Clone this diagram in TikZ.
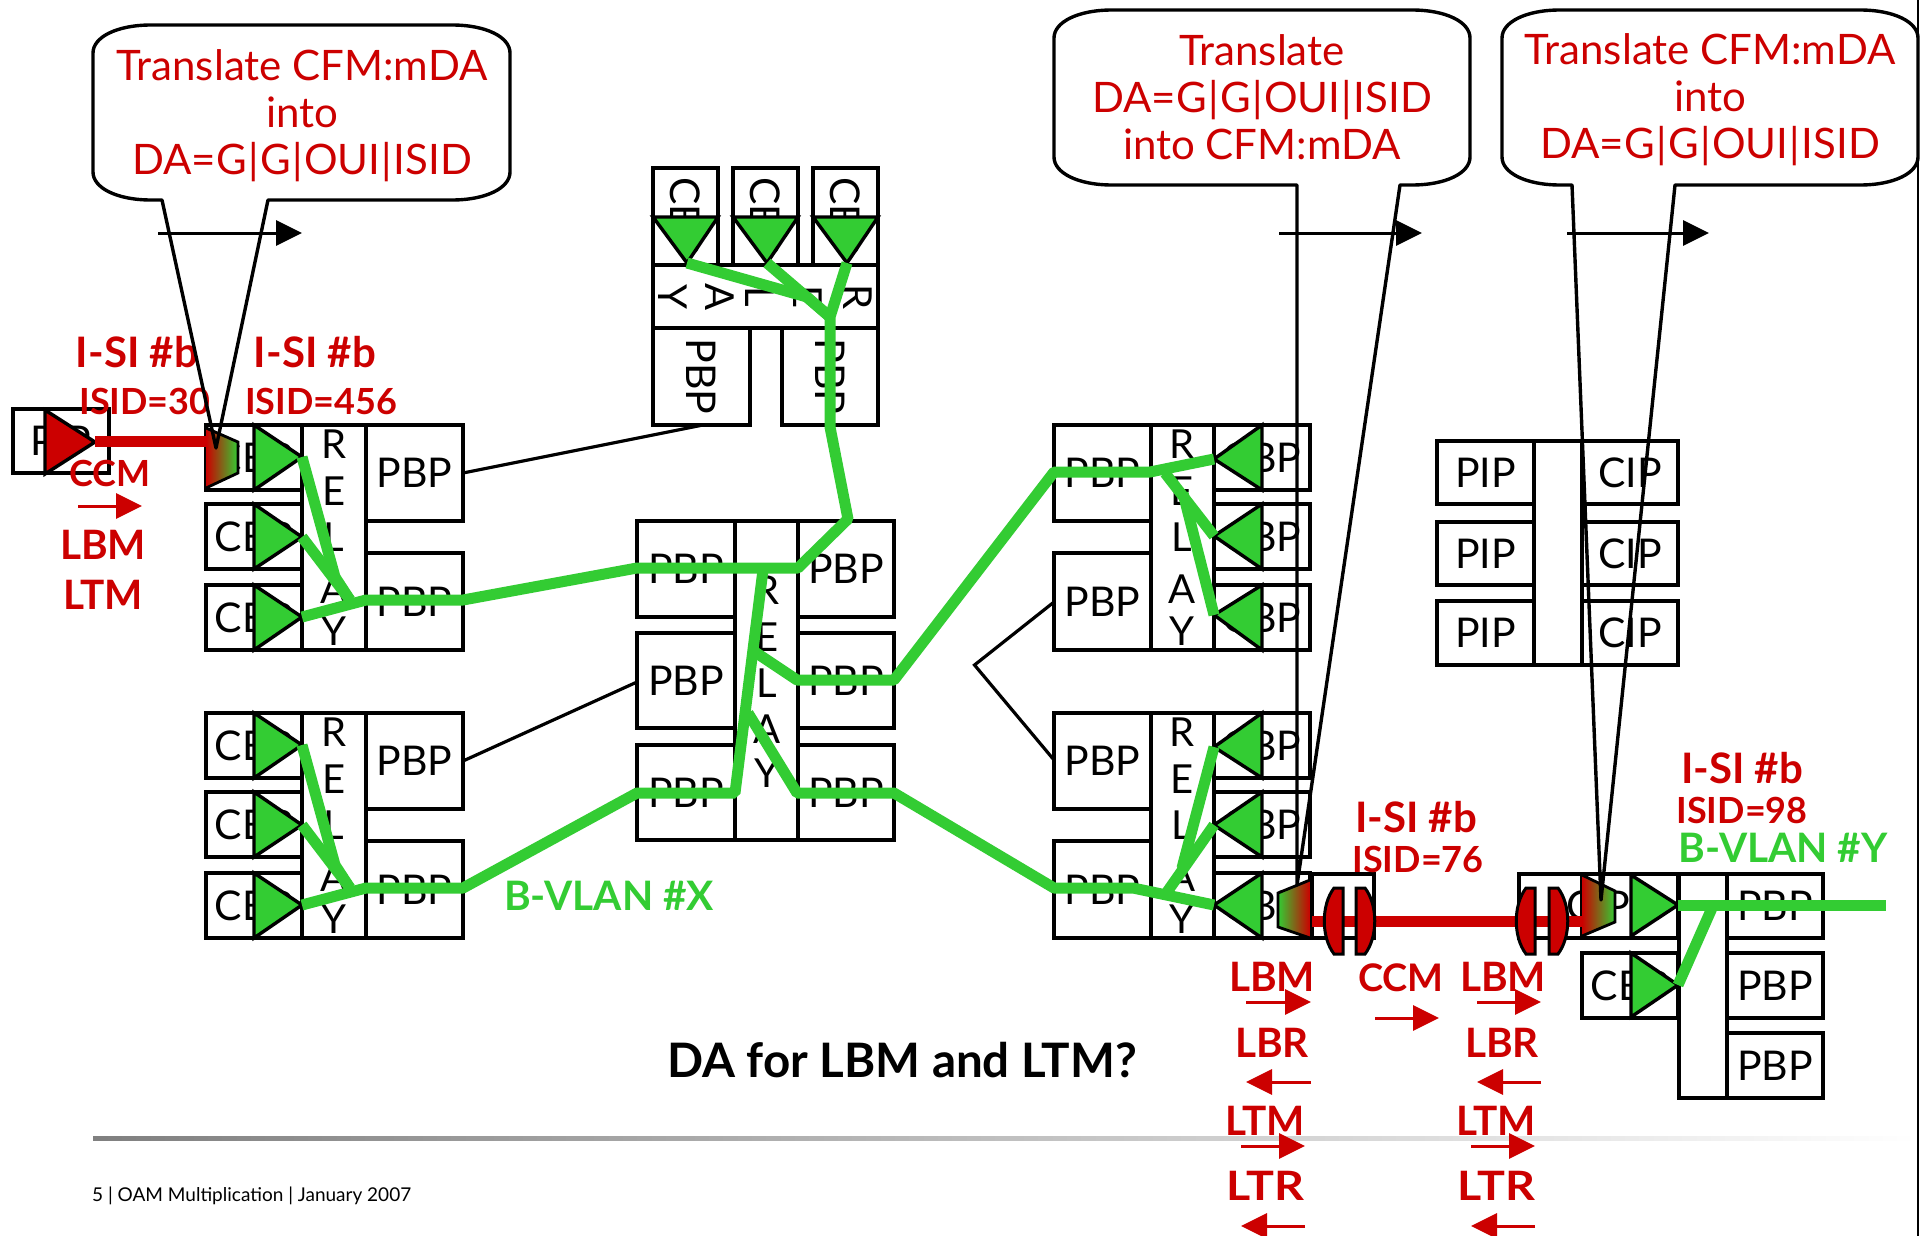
\documentclass[tikz,border=0pt]{standalone}
\usepackage{fontspec}
\setmainfont{Lato}
\usetikzlibrary{arrows.meta,shadings}
\definecolor{cred}{HTML}{CC0000}
\definecolor{cgreen}{HTML}{33CC33}
\tikzset{
  x=1pt,y=-1pt,
  boxn/.style={draw=black,line width=3.6pt,fill=white,inner sep=0pt,outer sep=0pt,font=\fontsize{41}{41}\selectfont},
  lett/.style={inner sep=0pt,font=\fontsize{40}{40}\selectfont},
  tria/.style={draw=black,line width=3.4pt,fill=cgreen,line join=miter},
  gline/.style={draw=cgreen,line width=11pt,line join=bevel},
  rline/.style={draw=cred,line width=11pt},
  thin/.style={draw=black,line width=3.2pt},
  rhead/.style={inner sep=0pt,text=cred,font=\fontsize{40.5}{40.5}\selectfont\bfseries},
  isi/.style={inner sep=0pt,text=cred,font=\fontsize{42}{42}\selectfont\bfseries},
  rsub/.style={inner sep=0pt,text=cred,font=\fontsize{36}{36}\selectfont\bfseries},
  gtxt/.style={inner sep=0pt,text=cgreen,font=\fontsize{40.6}{40.6}\selectfont\bfseries},
  ctxt/.style={inner sep=0pt,text=cred,align=center,font=\fontsize{42}{47}\selectfont},
  rarr/.style={draw=cred,line width=3pt,-{Triangle[length=26pt,width=25pt]}},
  barr/.style={draw=black,line width=3pt,-{Triangle[length=26pt,width=25pt]}},
  lens/.style={draw=black,line width=3pt,fill=cred},
  trap/.style={draw=black,line width=2.8pt},
  calloutp/.style={draw=black,line width=3.4pt},
}
% name x1 y1 x2 y2 text
\newcommand{\bx}[6]{\node[boxn,minimum width={(#4)-(#2)},minimum height={(#5)-(#3)}] (#1) at ({((#2)+(#4))/2},{((#3)+(#5))/2}) {#6};}
\newcommand{\tri}[7]{\coordinate (#1) at (#6,#7); \path[tria] (#2,#3) -- (#4,#5) -- (#6,#7) -- cycle;}
\newcommand{\relayword}[3]{%
  \node[lett] (#1r) at (#2,{#3+19}) {R};
  \node[lett] (#1e) at (#2,{#3+66}) {E};
  \node[lett] (#1l) at (#2,{#3+112}) {L};
  \node[lett] (#1a) at (#2,{#3+164}) {A};
  \node[lett] (#1y) at (#2,{#3+206}) {Y};}
\newcommand{\arw}[5]{\coordinate (#1s) at (#3,#5); \coordinate (#1t) at (#4,#5); \draw[#2] (#1s) -- (#1t);}
\newcommand{\sepb}{\kern1.4pt|\kern1.4pt}
% x1 y1 x2 y2 p1 tipx tipy p2
\newcommand{\callout}[8]{\draw[calloutp,line join=round]
  (#5,#4) -- (#6,#7) -- (#8,#4) -- ({#3-58},#4)
  .. controls ({#3-24},#4) and (#3,{#4-12}) .. (#3,{#4-28})
  -- (#3,{#2+28}) .. controls (#3,{#2+12}) and ({#3-24},#2) .. ({#3-58},#2)
  -- ({#1+58},#2) .. controls ({#1+24},#2) and (#1,{#2+12}) .. (#1,{#2+28})
  -- (#1,{#4-28}) .. controls (#1,{#4-12}) and ({#1+24},#4) .. ({#1+58},#4) -- cycle;}
\begin{document}
\begin{tikzpicture}
\useasboundingbox (0,0) rectangle (1924,1236);
\fill[white] (0,0) rectangle (1924,1236);
% ---------- rule, footer
\shade[left color=black!50,right color=white] (93,1136) rectangle (1918,1140);
\coordinate (edgeA) at (1918,0); \coordinate (edgeB) at (1918,1236);
\draw[line width=2.6pt] (edgeA) -- (edgeB);
\node[anchor=west,inner sep=0pt,font=\fontsize{19}{19}\selectfont] (foot) at (92,1196) {5 | OAM Multiplication | January 2007};
\node[inner sep=0pt,font=\fontsize{47.5}{47.5}\selectfont\bfseries] (q) at (902,1060) {DA for LBM and LTM?};
% ---------- far left
\bx{pipl}{13}{409}{109}{473}{PIP}
% ---------- left groups
\foreach \o/\n in {0/a,288/b}{
  \bx{c\n1}{206}{\o+425}{302}{\o+490}{CBP}
  \bx{c\n2}{206}{\o+504}{302}{\o+569}{CBP}
  \bx{c\n3}{206}{\o+585}{302}{\o+650}{CBP}
  \bx{r\n}{302}{\o+425}{366}{\o+650}{}
  \bx{p\n1}{366}{\o+425}{463}{\o+521}{PBP}
  \bx{p\n2}{366}{\o+553}{463}{\o+650}{PBP}
  \relayword{w\n}{334}{\o+425}
}
% ---------- top group (rotated)
\bx{ct1}{653}{168}{718}{265}{\rotatebox{-90}{CBP}}
\bx{ct2}{733}{168}{798}{265}{\rotatebox{-90}{CBP}}
\bx{ct3}{813}{168}{878}{265}{\rotatebox{-90}{CBP}}
\bx{rt}{653}{265}{878}{328}{}
\bx{pt1}{653}{328}{750}{425}{\rotatebox{-90}{PBP}}
\bx{pt2}{782}{328}{878}{425}{\rotatebox{-90}{PBP}}
\node[lett,rotate=-90] (wtr) at (858,297) {R};
\node[lett,rotate=-90] (wte) at (808,297) {E};
\node[lett,rotate=-90] (wtl) at (760,297) {L};
\node[lett,rotate=-90] (wta) at (720,297) {A};
\node[lett,rotate=-90] (wty) at (673,297) {Y};
% ---------- centre group
\bx{m1}{637}{521}{735}{617}{PBP}
\bx{m2}{637}{633}{735}{728}{PBP}
\bx{m3}{637}{745}{735}{840}{PBP}
\bx{mr}{735}{521}{798}{840}{}
\bx{n1}{798}{521}{894}{617}{PBP}
\bx{n2}{798}{633}{894}{728}{PBP}
\bx{n3}{798}{745}{894}{840}{PBP}
\node[lett] (wmr) at (767,590) {R};
\node[lett] (wme) at (767,637) {E};
\node[lett] (wml) at (767,683) {L};
\node[lett] (wma) at (767,729) {A};
\node[lett] (wmy) at (767,773) {Y};
% ---------- right groups
\bx{xpr}{1312}{874}{1374}{938}{}
\foreach \o/\n in {0/c,288/d}{
  \bx{p\n1}{1054}{\o+425}{1151}{\o+521}{PBP}
  \bx{p\n2}{1054}{\o+553}{1151}{\o+650}{PBP}
  \bx{r\n}{1151}{\o+425}{1214}{\o+650}{}
  \bx{c\n1}{1214}{\o+425}{1310}{\o+490}{CBP}
  \bx{c\n2}{1214}{\o+504}{1310}{\o+569}{CBP}
  \bx{c\n3}{1214}{\o+585}{1310}{\o+650}{CBP}
  \relayword{w\n}{1182}{\o+425}
}
% ---------- PIP / CIP group
\bx{pi1}{1437}{441}{1534}{504}{PIP}
\bx{pi2}{1437}{522}{1534}{585}{PIP}
\bx{pi3}{1437}{601}{1534}{665}{PIP}
\bx{pim}{1534}{441}{1582}{665}{}
\bx{ci1}{1582}{441}{1678}{504}{CIP}
\bx{ci2}{1582}{522}{1678}{585}{CIP}
\bx{ci3}{1582}{601}{1678}{665}{CIP}
% ---------- bottom right group
\bx{yb}{1519}{874}{1582}{938}{}
\bx{c91}{1582}{874}{1678}{938}{}
\node[boxn,draw=none,fill=none] (c9t) at (1598,906) {CIP};
\bx{c92}{1582}{953}{1678}{1018}{CBP}
\bx{r9}{1679}{874}{1727}{1098}{}
\bx{p91}{1727}{874}{1823}{938}{PBP}
\bx{p92}{1727}{953}{1823}{1018}{PBP}
\bx{p93}{1727}{1033}{1823}{1098}{PBP}
% ---------- thin connectors
\coordinate (vt) at (974.5,665);
\coordinate (ta) at (463,473); \coordinate (tb) at (703,425);
\draw[thin] (ta) -- (tb);
\coordinate (tc) at (463,761); \coordinate (td) at (637,682);
\draw[thin] (tc) -- (td);
\coordinate (te) at (1054,602); \coordinate (tf) at (1054,760);
\draw[thin] (te) -- (vt) -- (tf);
% ---------- triangles
\tri{tr1}{254}{425}{254}{490}{302}{457}
\tri{tr2}{254}{504}{254}{569}{302}{537}
\tri{tr3}{254}{585}{254}{650}{302}{617}
\tri{tr4}{254}{713}{254}{778}{302}{745}
\tri{tr5}{254}{792}{254}{857}{302}{825}
\tri{tr6}{254}{873}{254}{938}{302}{905}
\tri{tt1}{653}{217}{718}{217}{687}{263}
\tri{tt2}{733}{217}{798}{217}{767}{263}
\tri{tt3}{813}{217}{878}{217}{847}{263}
\tri{ts1}{1262}{425}{1262}{490}{1214}{459}
\tri{ts2}{1262}{504}{1262}{569}{1214}{536}
\tri{ts3}{1262}{585}{1262}{650}{1214}{615}
\tri{ts4}{1262}{713}{1262}{778}{1214}{747}
\tri{ts5}{1262}{792}{1262}{857}{1214}{825}
\tri{ts6}{1262}{873}{1262}{938}{1214}{905}
\tri{ty1}{1631}{875}{1631}{936}{1678}{905}
\tri{ty2}{1631}{953}{1631}{1017}{1678}{985}
% ---------- far left red and gradient traps
\path[draw=black,line width=3.4pt,fill=cred] (45,410) -- (45,474) -- (95,442) -- cycle;
\coordinate (rtip) at (95,441); \coordinate (trA) at (206,441);
\draw[rline] (rtip) -- (trA);
\coordinate (trB) at (1312,921); \coordinate (trC) at (1582,921);
\draw[rline] (trB) -- (trC);
\shade[left color=cred,right color=cgreen] (206,428) -- (238,442) -- (238,473) -- (206,488) -- cycle;
\draw[trap] (206,428) -- (238,442) -- (238,473) -- (206,488);
\shade[left color=cgreen,right color=cred] (1310,880) -- (1278,893) -- (1278,927) -- (1310,938) -- cycle;
\draw[trap] (1310,880) -- (1278,893) -- (1278,927) -- (1310,938);
\shade[left color=cred,right color=cgreen] (1582,875) -- (1615,891) -- (1615,922) -- (1582,936) -- cycle;
\draw[trap] (1582,875) -- (1615,891) -- (1615,922) -- (1582,936);
% ---------- lenses
\path[lens] (1343,888) -- (1334,888) .. controls (1321,905) and (1321,937) .. (1334,954) -- (1343,954) -- cycle;
\path[lens] (1356,888) -- (1365,888) .. controls (1378,905) and (1378,937) .. (1365,954) -- (1356,954) -- cycle;
\path[lens] (1535,888) -- (1526,888) .. controls (1513,905) and (1513,937) .. (1526,954) -- (1535,954) -- cycle;
\path[lens] (1549,888) -- (1558,888) .. controls (1571,905) and (1571,937) .. (1558,954) -- (1549,954) -- cycle;
% ---------- green paths
\coordinate (ga) at (335,577); \coordinate (gb) at (350,600); \coordinate (gc) at (366,600); \coordinate (gd) at (463,600);
\coordinate (gh) at (335,865); \coordinate (gi) at (350,888); \coordinate (gj) at (366,888); \coordinate (gk) at (463,888);
\coordinate (m1a) at (637,568); \coordinate (m1b) at (798,568);
\coordinate (m3a) at (637,793); \coordinate (m3b) at (735,793); \coordinate (m3c) at (763,570);
\coordinate (u1) at (807,297); \coordinate (u2) at (830,317); \coordinate (u3) at (830,328); \coordinate (u4) at (830,427); \coordinate (u5) at (848,519);
\draw[gline] (tr1) -- (ga) -- (gb);
\draw[gline] (tr2) -- (gb);
\draw[gline] (tr3) -- (gc) -- (gd) -- (m1a) -- (m1b) -- (u5) -- (u4) -- (u3) -- (u2) -- (tt3);
\draw[gline] (tt1) -- (u1) -- (u2);
\draw[gline] (tt2) -- (u2);
\draw[gline] (tr4) -- (gh) -- (gi);
\draw[gline] (tr5) -- (gi);
\draw[gline] (tr6) -- (gj) -- (gk) -- (m3a) -- (m3b) -- (m3c);
\coordinate (n2a) at (752,650); \coordinate (n2b) at (797,680); \coordinate (n2c) at (894,680); \coordinate (c1a) at (1054,472); \coordinate (c1b) at (1150,472);
\draw[gline] (n2a) -- (n2b) -- (n2c) -- (c1a) -- (c1b) -- (ts1);
\coordinate (n3a) at (748,713); \coordinate (n3b) at (797,793); \coordinate (n3c) at (894,793); \coordinate (d1a) at (1054,888); \coordinate (d1b) at (1133,888);
\draw[gline] (n3a) -- (n3b) -- (n3c) -- (d1a) -- (d1b) -- (ts6);
\coordinate (c2a) at (1165,473); \coordinate (c3a) at (1183,493);
\draw[gline] (c2a) -- (ts2);
\draw[gline] (c3a) -- (ts3);
\coordinate (d2a) at (1167,892); \coordinate (d3a) at (1182,868);
\draw[gline] (d2a) -- (ts5);
\draw[gline] (d3a) -- (ts4);
\coordinate (yend) at (1886,905); \coordinate (yj) at (1712,908);
\draw[gline] (ty1) -- (yend);
\draw[gline] (ty2) -- (yj);
% ---------- red and green labels
\node[isi] (l1) at (137,352) {I-SI \#b};
\node[rsub] (l2) at (145,401) {ISID=30};
\node[isi] (l3) at (315,352) {I-SI \#b};
\node[rsub] (l4) at (321,401) {ISID=456};
\node[rsub] (l5) at (110,473) {CCM};
\arw{al}{rarr}{78}{142}{506}
\node[rhead] (l6) at (103,545) {LBM};
\node[rhead] (l7) at (103,595) {LTM};
\node[gtxt] (l8) at (609,896) {B-VLAN \#X};
\node[isi] (l9) at (1416,817) {I-SI \#b};
\node[rsub] (l10) at (1418,859) {ISID=76};
\node[isi] (l11) at (1742,768) {I-SI \#b};
\node[rsub] (l12) at (1742,810) {ISID=98};
\node[gtxt] (l13) at (1783,848) {B-VLAN \#Y};
\node[rhead] (b1) at (1272,977) {LBM};
\arw{b1a}{rarr}{1246}{1311}{1002}
\node[rhead] (b2) at (1272,1043) {LBR};
\arw{b2a}{rarr}{1311}{1246}{1082}
\node[rhead] (b3) at (1265,1121) {LTM};
\arw{b3a}{rarr}{1241}{1305}{1146}
\node[rhead] (b4) at (1265,1186) {\scalebox{1.15}[1]{LTR}};
\arw{b4a}{rarr}{1305}{1241}{1226}
\node[rsub,font=\fontsize{38}{38}\selectfont\bfseries] (b5) at (1401,978) {CCM};
\arw{b5a}{rarr}{1375}{1439}{1018}
\node[rhead] (e1) at (1503,977) {LBM};
\arw{e1a}{rarr}{1477}{1541}{1002}
\node[rhead] (e2) at (1502,1043) {LBR};
\arw{e2a}{rarr}{1541}{1477}{1082}
\node[rhead] (e3) at (1496,1121) {LTM};
\arw{e3a}{rarr}{1471}{1535}{1146}
\node[rhead] (e4) at (1496,1186) {\scalebox{1.15}[1]{LTR}};
\arw{e4a}{rarr}{1535}{1471}{1226}
% ---------- black arrows
\arw{k1}{barr}{158}{302}{233}
\arw{k2}{barr}{1279}{1422}{233}
\arw{k3}{barr}{1567}{1709}{233}
% ---------- callouts
\callout{93}{25}{510}{200}{162}{216}{448}{268}
\callout{1054}{10}{1470}{185}{1297}{1297}{885}{1400}
\callout{1502}{10}{1918}{185}{1572}{1601}{900}{1675}
\node[ctxt] (t1) at (302,116) {Translate CFM:mDA\\into\\DA=G\sepb G\sepb OUI\sepb ISID};
\node[ctxt] (t2) at (1262,97) {Translate\\DA=G\sepb G\sepb OUI\sepb ISID\\into CFM:mDA};
\node[ctxt] (t3) at (1710,100) {Translate CFM:mDA\\into\\DA=G\sepb G\sepb OUI\sepb ISID};
\end{tikzpicture}
\end{document}
